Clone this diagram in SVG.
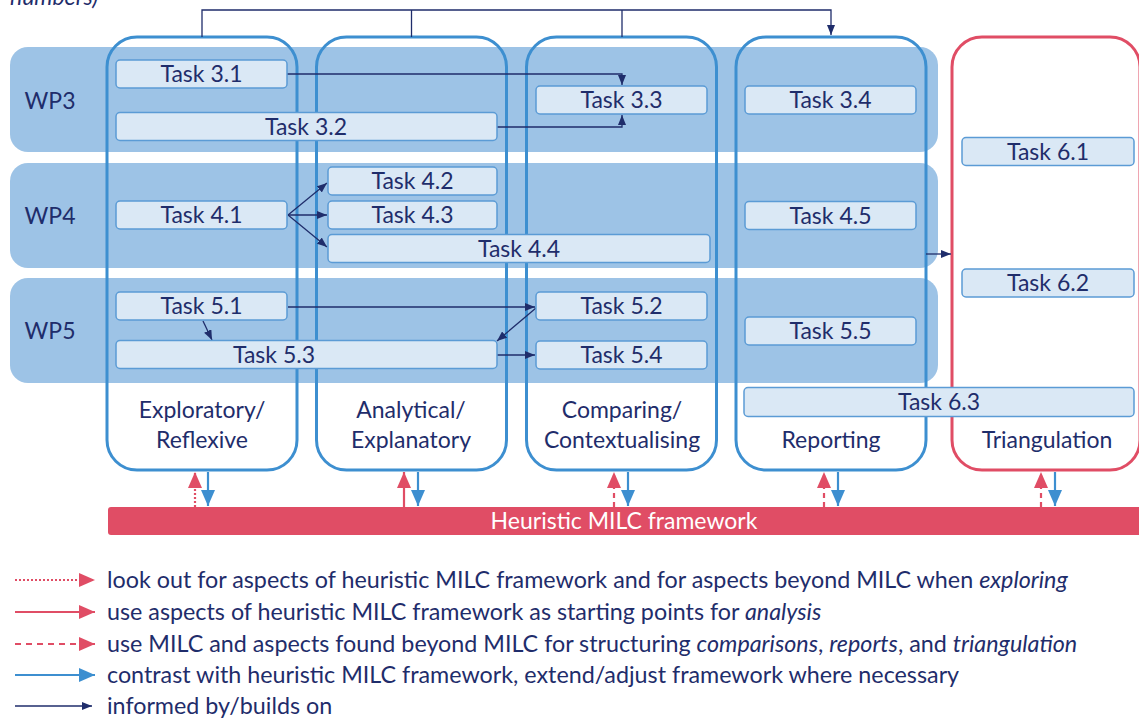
<svg xmlns="http://www.w3.org/2000/svg" width="1139" height="720" viewBox="0 0 1139 720">
<defs>
<style>
text{font-family:Lato,"Open Sans","Noto Sans",sans-serif;fill:#1f2d6b;}
.t{font-size:23px;text-anchor:middle;}
.band{fill:#9dc3e6;}
.col{fill:none;stroke:#3d8fd0;stroke-width:3;}
.colr{fill:none;stroke:#e04d65;stroke-width:3;}
.task{fill:#dae8f5;stroke:#5b9bd5;stroke-width:1.5;}
.nv{fill:none;stroke:#1f2d6b;stroke-width:1.3;}
.rd{fill:none;stroke:#e04d65;stroke-width:2.2;}
.bl{fill:none;stroke:#3d8fd0;stroke-width:2.2;}
.lg{font-size:23.3px;}
</style>
<marker id="an" markerUnits="userSpaceOnUse" viewBox="0 0 10 8" refX="10" refY="4" markerWidth="10" markerHeight="8" orient="auto"><path d="M0,0 L10,4 L0,8 z" fill="#1f2d6b"/></marker>
<marker id="ar" markerUnits="userSpaceOnUse" viewBox="0 0 16 14" refX="16" refY="7" markerWidth="16" markerHeight="14" orient="auto"><path d="M0,0 L16,7 L0,14 z" fill="#e04d65"/></marker>
<marker id="ab" markerUnits="userSpaceOnUse" viewBox="0 0 16 14" refX="16" refY="7" markerWidth="16" markerHeight="14" orient="auto"><path d="M0,0 L16,7 L0,14 z" fill="#3d8fd0"/></marker>
</defs>
<rect width="1139" height="720" fill="#ffffff"/>
<text x="10" y="5" style="font-size:23px;font-style:italic">numbers)</text>

<g id="bands">
<g id="wp3"><rect class="band" x="10" y="47" width="928" height="105" rx="18"/><text class="t" x="50" y="109">WP3</text></g>
<g id="wp4"><rect class="band" x="10" y="163" width="928" height="105" rx="18"/><text class="t" x="50" y="224">WP4</text></g>
<g id="wp5"><rect class="band" x="10" y="278" width="928" height="105" rx="18"/><text class="t" x="50" y="339">WP5</text></g>
</g>

<g id="columns">
<g id="col1"><rect class="col" x="107" y="37" width="190" height="433" rx="30"/><text class="t" x="202" y="418">Exploratory/</text><text class="t" x="202" y="448">Reflexive</text></g>
<g id="col2"><rect class="col" x="316.5" y="37" width="190" height="433" rx="30"/><text class="t" x="411" y="418">Analytical/</text><text class="t" x="411" y="448">Explanatory</text></g>
<g id="col3"><rect class="col" x="526.5" y="37" width="190" height="433" rx="30"/><text class="t" x="622" y="418">Comparing/</text><text class="t" x="622" y="448">Contextualising</text></g>
<g id="col4"><rect class="col" x="736" y="37" width="190" height="433" rx="30"/><text class="t" x="831" y="448">Reporting</text></g>
<g id="col5"><rect class="colr" x="952" y="37" width="188" height="433" rx="30"/><text class="t" x="1047" y="448">Triangulation</text></g>
</g>

<g id="connectors">
<path class="nv" d="M202,37 V10 H831 V35" marker-end="url(#an)"/>
<path class="nv" d="M411.5,37 V10"/>
<path class="nv" d="M622,37 V10"/>
<path class="nv" d="M287,74 H622 V85" marker-end="url(#an)"/>
<path class="nv" d="M497,127 H622 V115" marker-end="url(#an)"/>
<path class="nv" d="M288,215 L327,183" marker-end="url(#an)"/>
<path class="nv" d="M288,215 L327,215" marker-end="url(#an)"/>
<path class="nv" d="M288,215 L327,247" marker-end="url(#an)"/>
<path class="nv" d="M288,307 L535,307" marker-end="url(#an)"/>
<path class="nv" d="M536,308 L497,341" marker-end="url(#an)"/>
<path class="nv" d="M203,321 L212,340" marker-end="url(#an)"/>
<path class="nv" d="M497,355 L535,355" marker-end="url(#an)"/>
<path class="nv" d="M926,254 L951,254" marker-end="url(#an)"/>
<path class="rd" d="M195,507 V472" stroke-dasharray="2 2" marker-end="url(#ar)"/>
<path class="bl" d="M208,472 V506" marker-end="url(#ab)"/>
<path class="rd" d="M404,507 V472" marker-end="url(#ar)"/>
<path class="bl" d="M418,472 V506" marker-end="url(#ab)"/>
<path class="rd" d="M614,507 V472" stroke-dasharray="5 4" marker-end="url(#ar)"/>
<path class="bl" d="M628,472 V506" marker-end="url(#ab)"/>
<path class="rd" d="M824,507 V472" stroke-dasharray="5 4" marker-end="url(#ar)"/>
<path class="bl" d="M838,472 V506" marker-end="url(#ab)"/>
<path class="rd" d="M1041,507 V472" stroke-dasharray="5 4" marker-end="url(#ar)"/>
<path class="bl" d="M1055,472 V506" marker-end="url(#ab)"/>
</g>

<g id="tasks">
<g id="t31"><rect class="task" x="116" y="60" width="171" height="28" rx="4"/><text class="t" x="201.5" y="82">Task 3.1</text></g>
<g id="t32"><rect class="task" x="116" y="112.5" width="381" height="28" rx="4"/><text class="t" x="306" y="134.5">Task 3.2</text></g>
<g id="t33"><rect class="task" x="536" y="86" width="171" height="28" rx="4"/><text class="t" x="621.5" y="108">Task 3.3</text></g>
<g id="t34"><rect class="task" x="745" y="86" width="171" height="28" rx="4"/><text class="t" x="830.5" y="108">Task 3.4</text></g>
<g id="t41"><rect class="task" x="116" y="201" width="171" height="28" rx="4"/><text class="t" x="201.5" y="223">Task 4.1</text></g>
<g id="t42"><rect class="task" x="328" y="167" width="169" height="28" rx="4"/><text class="t" x="412.5" y="189">Task 4.2</text></g>
<g id="t43"><rect class="task" x="328" y="201" width="169" height="28" rx="4"/><text class="t" x="412.5" y="223">Task 4.3</text></g>
<g id="t44"><rect class="task" x="328" y="234.5" width="382" height="28" rx="4"/><text class="t" x="519" y="256.5">Task 4.4</text></g>
<g id="t45"><rect class="task" x="745" y="201.5" width="171" height="28" rx="4"/><text class="t" x="830.5" y="223.5">Task 4.5</text></g>
<g id="t51"><rect class="task" x="116" y="292" width="171" height="28" rx="4"/><text class="t" x="201.5" y="314">Task 5.1</text></g>
<g id="t52"><rect class="task" x="536" y="292" width="171" height="28" rx="4"/><text class="t" x="621.5" y="314">Task 5.2</text></g>
<g id="t53"><rect class="task" x="116" y="340.5" width="381" height="28" rx="4"/><text class="t" x="274" y="362.5">Task 5.3</text></g>
<g id="t54"><rect class="task" x="536" y="341" width="171" height="28" rx="4"/><text class="t" x="621.5" y="363">Task 5.4</text></g>
<g id="t55"><rect class="task" x="745" y="317" width="171" height="28" rx="4"/><text class="t" x="830.5" y="339">Task 5.5</text></g>
<g id="t61"><rect class="task" x="962" y="137.5" width="172" height="28" rx="4"/><text class="t" x="1048" y="159.5">Task 6.1</text></g>
<g id="t62"><rect class="task" x="962" y="269" width="172" height="28" rx="4"/><text class="t" x="1048" y="291">Task 6.2</text></g>
<g id="t63"><rect class="task" x="744" y="387.5" width="390" height="29" rx="4"/><text class="t" x="939" y="410">Task 6.3</text></g>
</g>

<g id="framework">
<rect x="108" y="507" width="1035" height="28" rx="3" fill="#e04d65"/>
<text class="t" x="624" y="529" style="fill:#ffffff">Heuristic MILC framework</text>
</g>

<g id="legend">
<path class="rd" d="M15,580 H95" stroke-dasharray="2 2" marker-end="url(#ar)"/>
<text class="lg" x="107" y="588">look out for aspects of heuristic MILC framework and for aspects beyond MILC when <tspan font-style="italic">exploring</tspan></text>
<path class="rd" d="M15,612 H95" marker-end="url(#ar)"/>
<text class="lg" x="107" y="620">use aspects of heuristic MILC framework as starting points for <tspan font-style="italic">analysis</tspan></text>
<path class="rd" d="M15,644 H95" stroke-dasharray="6 5" marker-end="url(#ar)"/>
<text class="lg" x="107" y="652">use MILC and aspects found beyond MILC for structuring <tspan font-style="italic">comparisons</tspan>, <tspan font-style="italic">reports</tspan>, and <tspan font-style="italic">triangulation</tspan></text>
<path class="bl" d="M15,675 H95" marker-end="url(#ab)"/>
<text class="lg" x="107" y="683">contrast with heuristic MILC framework, extend/adjust framework where necessary</text>
<path class="nv" d="M15,706 H92" marker-end="url(#an)"/>
<text class="lg" x="107" y="714">informed by/builds on</text>
</g>
</svg>
